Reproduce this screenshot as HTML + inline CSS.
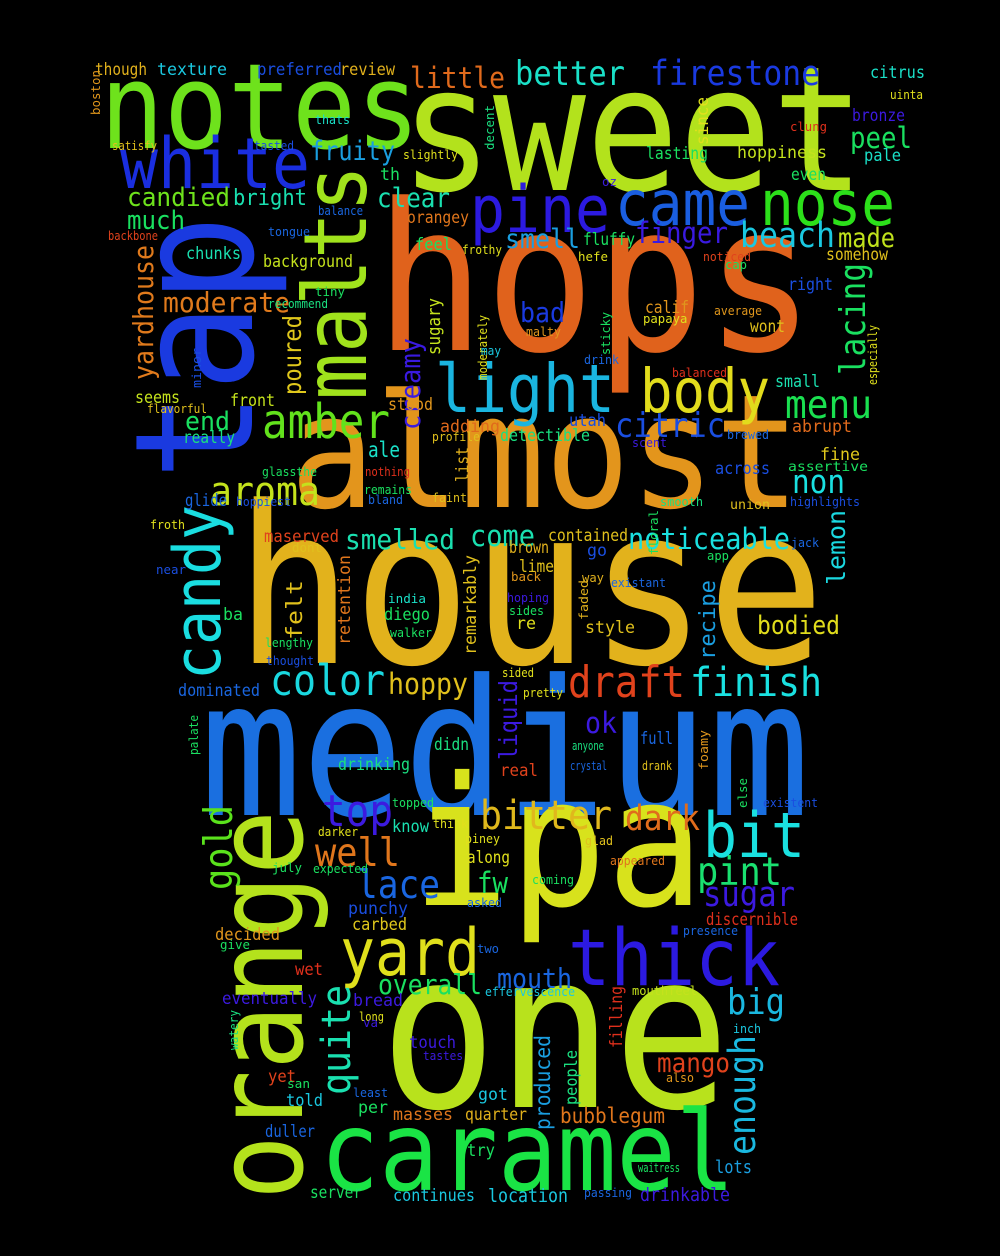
<!DOCTYPE html>
<html><head><meta charset="utf-8"><style>
html,body{margin:0;padding:0;background:#000;}
svg{display:block;}
text{font-family:"DejaVu Sans Mono","Liberation Mono",monospace;}
</style></head><body>
<svg id="cloud" width="1000" height="1256" viewBox="0 0 1000 1256">
<rect width="1000" height="1256" fill="#000"/>
</svg>
<script>
// word, x, baseline y, font size, color, rotated(1=vertical), rendered length (0 = natural)
const words = [
["sweet",400,190,155,"#b3e21c",0,465],
["hops",375,350,183,"#e0621c",0,440],
["house",235,663,196,"#e2b21c",0,590],
["almost",290,507,141,"#e3951c",0,510],
["medium",200,815,169,"#1a6fe0",0,610],
["ipa",412,905,160,"#d8e21c",0,292],
["one",380,1107,194,"#b8e21c",0,350],
["caramel",320,1190,99,"#1ae445",0,415],
["orange",302,1200,108,"#b4e21c",1,390],
["tap",252,480,147,"#1a3ae0",1,265],
["notes",100,148,106,"#6ee21c",0,320],
["white",120,188,63,"#1a2ee0",0,190],
["malts",366,400,78,"#a0e21c",1,235],
["candy",220,680,58,"#1adde0",1,175],
["pine",470,232,58,"#2c1ae0",0,140],
["came",615,225,56,"#1a5ee0",0,135],
["nose",760,225,56,"#2ce01a",0,135],
["light",435,412,60,"#1ab5e0",0,180],
["body",640,412,54,"#e2dc1c",0,130],
["amber",262,438,43,"#62e21c",0,128],
["aroma",210,505,36,"#c4e21c",0,110],
["menu",785,418,35,"#1ae050",0,87],
["lacing",865,375,32,"#1ae060",1,112],
["firestone",650,85,31,"#1a3ae0",0,170],
["better",515,85,30,"#1ae0c8",0,110],
["little",410,88,26,"#e06a1c",0,95],
["beach",740,247,31,"#1ac8e0",0,95],
["made",838,247,24,"#c0e21c",0,57],
["peel",850,148,26,"#1ae060",0,62],
["fruity",310,160,24,"#1a9ee0",0,85],
["candied",127,206,23,"#6ee21c",0,103],
["bright",233,205,20,"#1ae0b0",0,74],
["clear",377,207,24,"#1ae0b0",0,73],
["much",127,229,23,"#1ae060",0,58],
["moderate",163,312,25,"#e07a1c",0,127],
["yardhouse",153,380,25,"#e07a1c",1,135],
["smell",505,248,24,"#1a9ee0",0,75],
["finger",635,243,26,"#3a1ae0",0,93],
["bad",520,322,25,"#1a3ae0",0,45],
["creamy",420,430,25,"#3a1ae0",1,92],
["poured",301,395,22,"#e0c81c",1,80],
["sugary",440,355,16,"#c4e21c",1,57],
["citric",615,437,30,"#1a4ee0",0,110],
["end",185,430,23,"#1ae060",0,45],
["ale",368,457,19,"#1ae0c8",0,32],
["non",792,493,29,"#1ae0e0",0,53],
["come",470,546,26,"#1ae0b0",0,65],
["smelled",345,549,25,"#1ae0b0",0,110],
["noticeable",628,549,26,"#1ae0e0",0,162],
["color",270,695,38,"#1ad8e0",0,115],
["hoppy",388,694,26,"#e0c01c",0,80],
["draft",568,697,39,"#e0421c",0,117],
["finish",690,696,36,"#1ae0e0",0,132],
["top",322,826,39,"#3c1ae0",0,71],
["bitter",480,829,36,"#e0b81c",0,132],
["dark",625,830,31,"#e06c1c",0,75],
["bit",703,857,56,"#1ae0e0",0,102],
["well",315,866,35,"#e0761c",0,85],
["lace",357,898,35,"#1a66e0",0,83],
["pint",697,885,35,"#1ae070",0,85],
["sugar",703,906,31,"#3c1ae0",0,92],
["yard",340,975,58,"#e0e01c",0,140],
["thick",568,985,70,"#2c1ae0",0,212],
["gold",232,890,35,"#5ae21c",1,85],
["quite",350,1095,36,"#1ae0b0",1,110],
["overall",378,994,25,"#1ae060",0,104],
["mouth",497,988,25,"#1a66e0",0,75],
["big",727,1014,32,"#1ab8e0",0,58],
["enough",755,1155,33,"#1ab8e0",1,120],
["mango",657,1072,24,"#e0421c",0,73],
["lemon",845,585,22,"#1ad8e0",1,75],
["recipe",715,660,20,"#1a9ee0",1,80],
["liquid",517,760,22,"#3c1ae0",1,80],
["felt",302,640,20,"#e0c01c",1,60],
["bodied",757,634,23,"#e0dc1c",0,83],
["ok",585,733,26,"#3c1ae0",0,32],
["fw",477,893,26,"#1ae060",0,31],
["lots",715,1173,16,"#1a9ee0",0,37],
["produced",550,1130,19,"#1a9ee0",1,95],
["bubblegum",560,1123,19,"#e0761c",0,105],
["drinkable",640,1201,17,"#3c1ae0",0,90],
["location",488,1202,17,"#1ac8e0",0,80],
["continues",393,1201,15,"#1ac8e0",0,82],
["server",310,1198,15,"#1ae060",0,52],
["duller",265,1137,15,"#1a66e0",0,50],
["told",286,1106,15,"#1ac8e0",0,37],
["yet",268,1082,15,"#e0421c",0,28],
["masses",393,1120,15,"#e0761c",0,60],
["quarter",465,1120,15,"#e0b01c",0,62],
["got",478,1100,15,"#1ac8e0",0,30],
["per",358,1113,15,"#1ae060",0,30],
["touch",409,1048,15,"#3c1ae0",0,47],
["bread",353,1006,15,"#3c1ae0",0,50],
["eventually",222,1004,15,"#3c1ae0",0,95],
["wet",295,975,15,"#e0301c",0,28],
["decided",215,940,15,"#e0961c",0,65],
["carbed",352,930,15,"#e0c81c",0,55],
["punchy",348,914,15,"#1a4ee0",0,60],
["drinking",338,770,15,"#1ae080",0,72],
["real",500,776,15,"#e0421c",0,38],
["didn",434,750,15,"#1ae080",0,35],
["full",640,744,15,"#1a66e0",0,33],
["drank",642,770,11,"#e0c01c",0,30],
["crystal",570,770,11,"#1a66e0",0,37],
["anyone",572,750,11,"#1ae080",0,32],
["dominated",178,696,15,"#1a66e0",0,82],
["style",585,633,15,"#e0c01c",0,50],
["fine",820,460,15,"#e0c81c",0,40],
["abrupt",792,432,15,"#e06a1c",0,60],
["across",715,474,15,"#1a4ee0",0,55],
["assertive",788,471,12,"#1ae060",0,80],
["union",730,509,12,"#e0c01c",0,40],
["highlights",790,506,11,"#1a4ee0",0,70],
["smooth",660,506,11,"#1ae080",0,43],
["front",230,406,15,"#c4e21c",0,45],
["seems",135,403,15,"#c4e21c",0,45],
["really",183,443,15,"#1ae080",0,52],
["flavorful",147,413,11,"#e0c01c",0,60],
["glide",185,506,15,"#1a66e0",0,42],
["froth",150,529,11,"#e0e01c",0,35],
["texture",157,75,15,"#1ac8e0",0,70],
["though",95,75,15,"#e0b01c",0,52],
["preferred",257,75,15,"#1a4ee0",0,85],
["review",340,75,15,"#e0b01c",0,55],
["citrus",870,78,15,"#1ae0c8",0,55],
["uinta",890,99,11,"#e0e01c",0,33],
["bronze",852,121,15,"#3c1ae0",0,53],
["pale",864,161,15,"#1ae0c8",0,37],
["clung",790,131,11,"#e0301c",0,37],
["hoppiness",737,158,15,"#c4e21c",0,90],
["lasting",646,159,15,"#1ae060",0,62],
["even",791,180,15,"#1ae060",0,35],
["somehow",826,260,15,"#e0c01c",0,62],
["right",788,290,15,"#1a4ee0",0,45],
["small",775,387,15,"#1ae0b0",0,45],
["wont",750,332,15,"#e0c01c",0,35],
["calif",645,313,15,"#e0961c",0,44],
["papaya",643,323,11,"#e0e01c",0,0],
["satisfy",112,150,11,"#e0c01c",0,45],
["tasted",254,150,11,"#1a4ee0",0,40],
["thats",315,124,11,"#1ae0c8",0,35],
["slightly",403,159,11,"#e0e01c",0,55],
["th",380,180,15,"#1ae060",0,20],
["orangey",407,223,15,"#e0761c",0,62],
["feel",415,250,15,"#1ae060",0,37],
["frothy",462,254,11,"#e0e01c",0,40],
["hefe",578,261,11,"#e0e01c",0,30],
["noticed",703,261,11,"#e0421c",0,48],
["cap",725,269,11,"#1ae060",0,22],
["fluffy",583,245,15,"#1ae060",0,52],
["chunks",186,259,15,"#1ae0b0",0,55],
["background",263,267,15,"#c4e21c",0,90],
["balance",318,215,11,"#1a66e0",0,45],
["tongue",268,236,11,"#1a66e0",0,42],
["backbone",108,240,11,"#e0421c",0,50],
["recommend",268,308,11,"#1ae080",0,60],
["tiny",315,296,11,"#1ae060",0,30],
["adding",440,432,15,"#e06a1c",0,60],
["detectible",500,441,15,"#1ae080",0,90],
["stood",388,410,15,"#e0961c",0,45],
["profile",432,441,11,"#e0c01c",0,48],
["utah",569,426,15,"#1a4ee0",0,37],
["brewed",727,439,11,"#1a66e0",0,42],
["scent",632,447,11,"#3c1ae0",0,35],
["balanced",672,377,11,"#e0301c",0,55],
["average",714,315,11,"#e0961c",0,48],
["malty",526,336,11,"#e0961c",0,35],
["list",468,482,15,"#e0b01c",1,35],
["nothing",365,476,11,"#e0301c",0,45],
["glassthe",262,476,11,"#1ae060",0,55],
["remains",364,494,11,"#1ae060",0,48],
["bland",368,504,11,"#1a66e0",0,35],
["hoppiest",236,506,11,"#1a4ee0",0,55],
["faint",432,502,11,"#e0c01c",0,35],
["maserved",264,542,15,"#e0421c",0,75],
["dont",292,552,11,"#e0c01c",0,30],
["near",156,574,11,"#1a4ee0",0,30],
["contained",548,541,15,"#e0c01c",0,80],
["brown",509,553,15,"#e0b01c",0,40],
["go",587,556,15,"#1a4ee0",0,20],
["lime",519,572,15,"#e0c01c",0,35],
["back",511,581,11,"#e0961c",0,30],
["jack",791,547,11,"#1a66e0",0,28],
["app",707,560,11,"#1ae060",0,22],
["existant",611,587,11,"#1a66e0",0,55],
["way",582,582,11,"#e0b01c",0,22],
["hoping",507,602,11,"#3c1ae0",0,42],
["sides",509,615,11,"#1ae060",0,35],
["re",516,629,15,"#e0e01c",0,20],
["india",388,603,11,"#1ae0c8",0,38],
["diego",384,620,15,"#1ae060",0,46],
["walker",390,637,11,"#1ae060",0,42],
["ba",223,620,15,"#1ae060",0,20],
["lengthy",265,647,11,"#1ae060",0,48],
["thought",266,665,11,"#1a4ee0",0,48],
["sided",502,677,11,"#e0e01c",0,32],
["pretty",523,697,11,"#e0e01c",0,40],
["retention",350,645,15,"#e0761c",1,90],
["remarkably",476,655,15,"#e0c01c",1,100],
["floral",658,555,11,"#1ae060",1,45],
["faded",588,620,11,"#e0b01c",1,40],
["know",392,832,15,"#1ae0b0",0,37],
["think",433,828,11,"#e0e01c",0,35],
["topped",392,807,11,"#1ae060",0,42],
["darker",318,836,11,"#e0e01c",0,40],
["piney",465,843,11,"#e0e01c",0,35],
["glad",585,845,11,"#e0c01c",0,28],
["appeared",610,865,11,"#e0761c",0,55],
["expected",313,873,11,"#1ae060",0,55],
["july",272,872,11,"#1ae060",0,30],
["along",467,863,15,"#e0e01c",0,43],
["coming",532,884,11,"#1ae060",0,42],
["asked",467,907,11,"#1a66e0",0,35],
["discernible",706,925,15,"#e0301c",0,92],
["presence",683,935,11,"#1a66e0",0,55],
["give",220,949,11,"#1ae060",0,30],
["two",477,953,11,"#1a66e0",0,22],
["effervescence",485,996,11,"#1ac8e0",0,90],
["mouthfeel",632,995,11,"#c4e21c",0,65],
["existent",763,807,11,"#1a4ee0",0,55],
["long",359,1021,11,"#e0e01c",0,25],
["va",363,1027,11,"#3c1ae0",0,15],
["inch",733,1033,11,"#1ac8e0",0,28],
["tastes",423,1060,11,"#3c1ae0",0,40],
["also",666,1082,11,"#e0961c",0,28],
["san",287,1088,11,"#1ae060",0,23],
["least",353,1097,11,"#1a66e0",0,35],
["try",467,1156,15,"#1ae060",0,28],
["waitress",638,1172,11,"#1ae060",0,42],
["passing",584,1197,11,"#1a66e0",0,48],
["watery",238,1050,11,"#1ae080",1,40],
["palate",198,755,11,"#1ae060",1,40],
["foamy",708,770,11,"#e0961c",1,40],
["else",747,808,11,"#1ae060",1,30],
["filling",622,1048,15,"#e0301c",1,62],
["people",577,1105,15,"#1ae080",1,55],
["boston",100,115,11,"#e0961c",1,45],
["decent",494,150,11,"#1ae080",1,45],
["since",708,145,15,"#e0e01c",1,48],
["oz",602,186,11,"#3c1ae0",0,15],
["moderately",487,380,11,"#e0e01c",1,65],
["may",481,355,11,"#1ac8e0",0,20],
["sticky",610,355,11,"#1ae060",1,43],
["drink",584,364,11,"#1a66e0",0,35],
["minor",201,388,11,"#1a4ee0",1,40],
["especially",877,385,11,"#e0e01c",1,60]
];
const svg = document.getElementById('cloud');
const NS = 'http://www.w3.org/2000/svg';
const SCALE = 1.12;
words.forEach(w => {
  const [txt,x,y,size,color,rot,len] = w;
  if (!size) return;
  const t = document.createElementNS(NS,'text');
  t.setAttribute('x', x);
  t.setAttribute('y', y);
  t.setAttribute('font-size', (size * SCALE).toFixed(1));
  t.setAttribute('fill', color);
  if (len) { t.setAttribute('textLength', len); t.setAttribute('lengthAdjust','spacingAndGlyphs'); }
  if (rot) t.setAttribute('transform', 'rotate(-90 ' + x + ' ' + y + ')');
  t.textContent = txt;
  
  
  svg.appendChild(t);
});
</script>
</body></html>
